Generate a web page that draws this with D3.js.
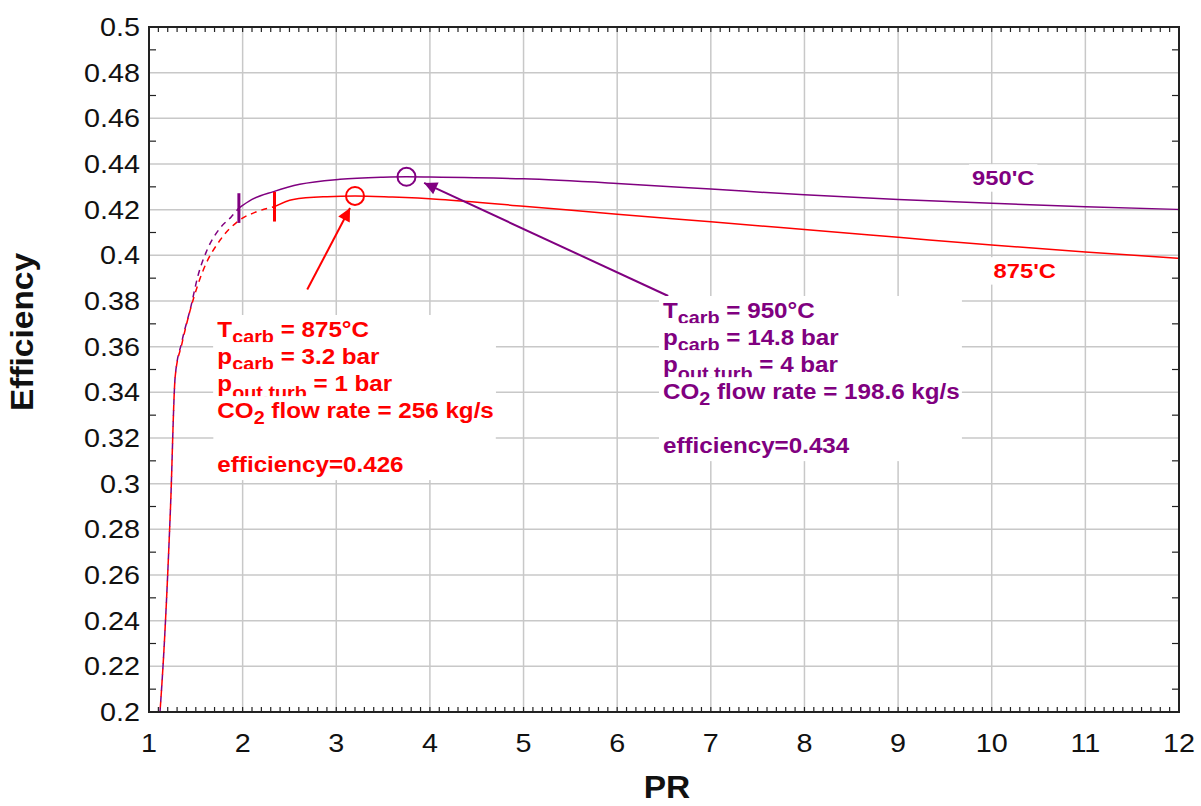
<!DOCTYPE html>
<html>
<head>
<meta charset="utf-8">
<script src="https://cdn.jsdelivr.net/npm/d3@7"></script>
<style>
  body { margin: 0; background: #fff; }
  text { font-family: 'Liberation Sans', Arial, sans-serif; white-space: pre; }
</style>
</head>
<body>
<script>
// --- data ---
const prPurple = [1.10, 1.17, 1.23, 1.28, 1.35, 1.45, 1.52, 1.62, 1.76, 1.88, 1.96, 2.10, 2.33, 2.61, 3.04, 3.5, 3.75, 4, 5, 6, 7, 8, 9, 10, 11, 12];
const effPurple = [0.19, 0.235, 0.29, 0.347, 0.362, 0.378, 0.3906, 0.4023, 0.412, 0.4169, 0.4207, 0.4245, 0.4279, 0.4311, 0.4333, 0.4342, 0.4344, 0.4343, 0.4335, 0.4315, 0.429, 0.4265, 0.4245, 0.4228, 0.4213, 0.4201];
const prRed = [1.10, 1.17, 1.23, 1.28, 1.35, 1.44, 1.58, 1.76, 1.97, 2.15, 2.34, 2.54, 2.90, 3.2, 3.6, 4.11, 5, 6, 7, 8, 9, 10, 11, 12];
const effRed = [0.19, 0.235, 0.29, 0.347, 0.361, 0.376, 0.3936, 0.4067, 0.4155, 0.4191, 0.4213, 0.4245, 0.4257, 0.426, 0.4255, 0.4245, 0.4215, 0.418, 0.4147, 0.4113, 0.4079, 0.4045, 0.4015, 0.3987];
const breakPurple = 1.96;
const breakRed = 2.34;
const bestPurple = [3.75, 0.4344];
const bestRed = [3.2, 0.426];
const arrowRed = [[2.69, 0.385], [3.147, 0.4207]];
const arrowPurple = [[6.545, 0.3822], [3.938, 0.4317]];
const xTicks = d3.range(1, 13);
const yTicks = d3.range(0, 16).map(i => +(0.2 + i * 0.02).toFixed(2));

const noteRed = [
    [['T'], ['carb', 6], [' = 875°C']],
    [['p'], ['carb', 6], [' = 3.2 bar']],
    [['p'], ['out.turb', 8], [' = 1 bar']],
    [['CO'], ['2', 6], [' flow rate = 256 kg/s']],
    [],
    [['efficiency=0.426']]
];
const notePurple = [
    [['T'], ['carb', 6], [' = 950°C']],
    [['p'], ['carb', 6], [' = 14.8 bar']],
    [['p'], ['out.turb', 8], [' = 4 bar']],
    [['CO'], ['2', 6], [' flow rate = 198.6 kg/s']],
    [],
    [['efficiency=0.434']]
];
const notePosRed = [1.73, 0.3642];
const notePosPurple = [6.49, 0.3725];
const labelPurple = ["950'C", 9.79, 0.4308];
const labelRed = ["875'C", 10.02, 0.3901];

const RED = '#ff0000';
const PURPLE = '#800080';
const GRID = '#c8c8c8';

const W = 1201, H = 806;
const svg = d3.select('body').append('svg').attr('width', W).attr('height', H);

const x = d3.scaleLinear().domain([1, 12]).range([149, 1179]);
const y = d3.scaleLinear().domain([0.2, 0.5]).range([712, 27]);

// text is a bit wide in the original, stretch horizontally
function label(parent, px, py, str, opt) {
    const g = parent.append('g')
        .attr('transform', `translate(${px},${py})${opt.rot ? ` rotate(${opt.rot})` : ''} scale(${opt.k || 1.15},1)`);
    return g.append('text')
        .attr('text-anchor', opt.anchor || 'start')
        .attr('font-size', opt.size)
        .attr('font-weight', opt.bold ? 'bold' : null)
        .attr('fill', opt.color || '#111')
        .text(str);
}

// grid
const grid = svg.append('g');
grid.selectAll('.gx').data(xTicks.slice(1, -1)).join('line').attr('class', 'gx')
    .attr('x1', d => x(d)).attr('x2', d => x(d))
    .attr('y1', y(0.2)).attr('y2', y(0.5))
    .attr('stroke', GRID).attr('stroke-width', 1.5);
grid.selectAll('.gy').data(yTicks.slice(1, -1)).join('line').attr('class', 'gy')
    .attr('x1', x(1)).attr('x2', x(12))
    .attr('y1', d => y(d)).attr('y2', d => y(d))
    .attr('stroke', GRID).attr('stroke-width', 1.5);

// minor ticks, inside on all four sides
const xMinor = d3.range(11, 120).map(i => i / 10);
const yMinor = d3.range(0, 15).map(i => 0.21 + i * 0.02);
const ticks = svg.append('g').attr('stroke', '#222').attr('stroke-width', 1.2);
ticks.selectAll('.tb').data(xMinor).join('line').attr('class', 'tb')
    .attr('x1', d => x(d)).attr('x2', d => x(d)).attr('y1', y(0.2)).attr('y2', y(0.2) - 5);
ticks.selectAll('.tt').data(xMinor).join('line').attr('class', 'tt')
    .attr('x1', d => x(d)).attr('x2', d => x(d)).attr('y1', y(0.5)).attr('y2', y(0.5) + 5);
ticks.selectAll('.tl').data(yMinor).join('line').attr('class', 'tl')
    .attr('x1', x(1)).attr('x2', x(1) + 7).attr('y1', d => y(d)).attr('y2', d => y(d));
ticks.selectAll('.tr').data(yMinor).join('line').attr('class', 'tr')
    .attr('x1', x(12)).attr('x2', x(12) - 7).attr('y1', d => y(d)).attr('y2', d => y(d));

// tick labels
xTicks.forEach(d => label(svg, x(d), 752, String(d), { anchor: 'middle', size: 25 }));
yTicks.forEach(d => label(svg, x(1) - 9, y(d) + 9, String(d), { anchor: 'end', size: 25 }));

// axis titles
label(svg, 667, 798, 'PR', { anchor: 'middle', size: 31, bold: true, k: 1.08 });
label(svg, 33, 332, 'Efficiency', { anchor: 'middle', size: 31, bold: true, k: 1.08, rot: -90 });

// arrow heads
const defs = svg.append('defs');
[['ahRed', RED], ['ahPurple', PURPLE]].forEach(([id, c]) => {
    defs.append('marker').attr('id', id)
        .attr('viewBox', '0 0 10 10').attr('refX', 10).attr('refY', 5)
        .attr('markerUnits', 'userSpaceOnUse')
        .attr('markerWidth', 21).attr('markerHeight', 13)
        .attr('orient', 'auto')
        .append('path').attr('d', 'M0,0 L10,5 L0,10 Z').attr('fill', c);
});
defs.append('clipPath').attr('id', 'plot')
    .append('rect').attr('x', x(1)).attr('y', y(0.5))
    .attr('width', x(12) - x(1)).attr('height', y(0.2) - y(0.5));

// curves: dashed below the marker, solid above; red dashes are shifted so
// that both colours show where the two curves lie on top of each other
const line = d3.line().x(d => x(d[0])).y(d => y(d[1])).curve(d3.curveMonotoneX);
const series = [
    { pr: prPurple, eff: effPurple, color: PURPLE, brk: breakPurple, best: bestPurple, offset: 0 },
    { pr: prRed, eff: effRed, color: RED, brk: breakRed, best: bestRed, offset: 5.5 }
];
const curves = svg.append('g').attr('clip-path', 'url(#plot)');
series.forEach(s => {
    const pts = s.pr.map((p, i) => [p, s.eff[i]]);
    curves.append('path').datum(pts.filter(d => d[0] <= s.brk))
        .attr('d', line).attr('fill', 'none')
        .attr('stroke', s.color).attr('stroke-width', 1.5)
        .attr('stroke-dasharray', '6,5')
        .attr('stroke-dashoffset', s.offset);
    curves.append('path').datum(pts.filter(d => d[0] >= s.brk))
        .attr('d', line).attr('fill', 'none')
        .attr('stroke', s.color).attr('stroke-width', 1.5);
});
series.forEach(s => {
    const e = s.eff[s.pr.indexOf(s.brk)];
    svg.append('line')
        .attr('x1', x(s.brk)).attr('x2', x(s.brk))
        .attr('y1', y(e + 0.0065)).attr('y2', y(e - 0.0065))
        .attr('stroke', s.color).attr('stroke-width', 3);
    svg.append('circle')
        .attr('cx', x(s.best[0])).attr('cy', y(s.best[1])).attr('r', 9)
        .attr('fill', 'none').attr('stroke', s.color).attr('stroke-width', 2);
});

// arrows
[[arrowRed, RED, 'ahRed'], [arrowPurple, PURPLE, 'ahPurple']].forEach(([a, c, id]) => {
    svg.append('line')
        .attr('x1', x(a[0][0])).attr('y1', y(a[0][1]))
        .attr('x2', x(a[1][0])).attr('y2', y(a[1][1]))
        .attr('stroke', c).attr('stroke-width', 2)
        .attr('marker-end', `url(#${id})`);
});

// annotation boxes; each line gets its own white strip, drawn in order
function note(lines, pos, color) {
    const K = 1.1, LH = 27;
    const g = svg.append('g');
    const box = g.append('rect').attr('fill', '#fff');
    const x0 = x(pos[0]), b0 = y(pos[1]);
    const strips = [], widths = [];
    let row = 0;
    lines.forEach(segs => {
        if (!segs.length) { row++; return; }
        const by = b0 + row * LH;
        const lg = g.append('g');
        strips.push(lg.append('rect').attr('fill', '#fff').attr('y', by - 22).attr('height', 28));
        const t = lg.append('g').attr('transform', `translate(${x0},${by}) scale(${K},1)`)
            .append('text').attr('fill', color).attr('font-weight', 'bold').attr('font-size', 22);
        let shift = 0;
        segs.forEach(([str, sub]) => {
            const d = sub || 0;
            t.append('tspan').attr('dy', d - shift).attr('font-size', d ? 18 : 22).text(str);
            shift = d;
        });
        widths.push(t.node().getComputedTextLength() * K);
        row++;
    });
    const w = d3.max(widths) + 6;
    box.attr('x', x0 - 4).attr('y', b0 - 22).attr('width', w).attr('height', (row - 1) * LH + 30);
    strips.forEach(s => s.attr('x', x0 - 4).attr('width', w));
}
note(noteRed, notePosRed, RED);
note(notePurple, notePosPurple, PURPLE);

// curve labels
[[labelPurple, PURPLE], [labelRed, RED]].forEach(([l, c]) => {
    const g = svg.append('g');
    const bg = g.append('rect').attr('fill', '#fff');
    const t = label(g, x(l[1]), y(l[2]), l[0], { size: 21, bold: true, color: c, k: 1.13 });
    const bb = t.node().getBBox();
    bg.attr('x', x(l[1]) - 3).attr('y', y(l[2]) + bb.y - 2)
        .attr('width', bb.width * 1.13 + 6).attr('height', bb.height + 4);
});

// frame
svg.append('rect')
    .attr('x', x(1)).attr('y', y(0.5))
    .attr('width', x(12) - x(1)).attr('height', y(0.2) - y(0.5))
    .attr('fill', 'none').attr('stroke', '#222').attr('stroke-width', 2);
</script>
</body>
</html>
